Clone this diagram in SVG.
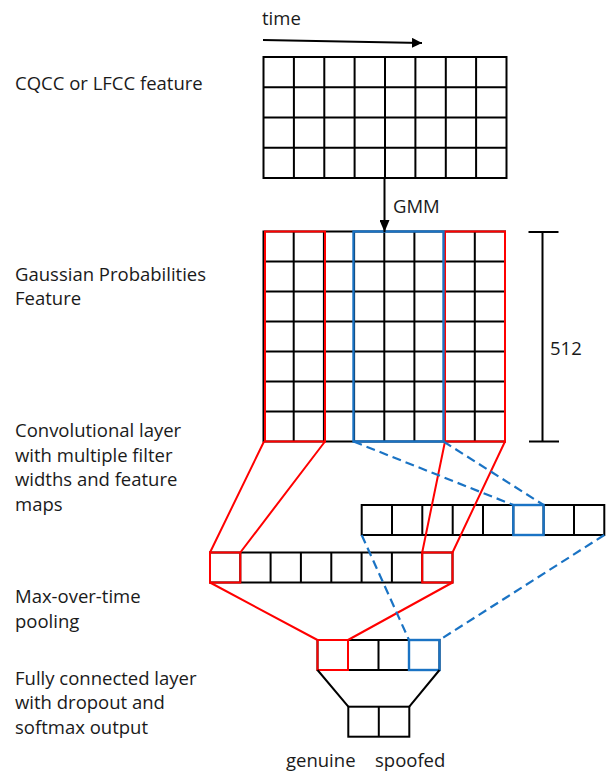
<svg xmlns="http://www.w3.org/2000/svg" width="608" height="771" viewBox="0 0 608 771">
  <defs>
    <style>
      .lbl { font-family: "Open Sans", "Liberation Sans", sans-serif; font-size: 18.5px; fill: #1a1a1a; }
      .grid { fill: none; stroke: #000; stroke-width: 2; }
      .red { fill: none; stroke: #ff0000; stroke-width: 2; }
      .blue { fill: none; stroke: #1a73c4; stroke-width: 2.4; }
      .dash { fill: none; stroke: #1a73c4; stroke-width: 2.2; stroke-dasharray: 9 5; }
      .ln { fill: none; stroke: #000; stroke-width: 2; }
    </style>
    <marker id="arrow" viewBox="0 0 10 10" refX="10" refY="5" markerWidth="10" markerHeight="10" markerUnits="userSpaceOnUse" orient="auto">
      <path d="M0,0 L10,5 L0,10 Z" fill="#000"/>
    </marker>
    <marker id="arrowBig" viewBox="0 0 12 10" refX="12" refY="5" markerWidth="12" markerHeight="10" markerUnits="userSpaceOnUse" orient="auto">
      <path d="M0,0 L12,5 L0,10 Z" fill="#000"/>
    </marker>
  </defs>
  <rect width="608" height="771" fill="#fff"/>

  <!-- side labels -->
  <g id="labels">
    <text class="lbl" x="15" y="90">CQCC or LFCC feature</text>
    <text class="lbl" x="15" y="280.5">Gaussian Probabilities</text>
    <text class="lbl" x="15" y="305">Feature</text>
    <text class="lbl" x="15" y="436.5">Convolutional layer</text>
    <text class="lbl" x="15" y="461.5">with multiple filter</text>
    <text class="lbl" x="15" y="486">widths and feature</text>
    <text class="lbl" x="15" y="510.5">maps</text>
    <text class="lbl" x="15" y="603">Max-over-time</text>
    <text class="lbl" x="15" y="627.5">pooling</text>
    <text class="lbl" x="15" y="684.5">Fully connected layer</text>
    <text class="lbl" x="15" y="709">with dropout and</text>
    <text class="lbl" x="15" y="733.5">softmax output</text>
  </g>

  <!-- input feature grid: 8 x 4 -->
  <g id="input-grid">
    <rect class="grid" x="263.5" y="57" width="243" height="121"/>
    <path class="grid" d="M293.9,57V178 M324.3,57V178 M354.6,57V178 M385,57V178 M415.4,57V178 M445.8,57V178 M476.1,57V178
                          M263.5,87.3H506.5 M263.5,117.5H506.5 M263.5,147.8H506.5"/>
  </g>

  <!-- gaussian probability grid: 8 x 7 -->
  <g id="gmm-grid">
    <rect class="grid" x="263.5" y="231.5" width="241.5" height="210"/>
    <path class="grid" d="M293.7,231.5V441.5 M323.9,231.5V441.5 M354.1,231.5V441.5 M384.3,231.5V441.5 M414.4,231.5V441.5 M444.6,231.5V441.5 M474.8,231.5V441.5
                          M263.5,261.5H505 M263.5,291.5H505 M263.5,321.5H505 M263.5,351.5H505 M263.5,381.5H505 M263.5,411.5H505"/>
    <rect class="red" x="265" y="231.5" width="60" height="210"/>
    <rect class="red" x="445" y="231.5" width="60" height="210"/>
    <rect class="blue" x="353.5" y="231.5" width="90" height="210"/>
  </g>

  <!-- scale bar for 512 components -->
  <g id="scale-bar">
    <path class="ln" d="M542.5,232V441.5 M528.5,232H558.5 M529,441.5H559"/>
    <text class="lbl" x="550" y="355">512</text>
  </g>

  <!-- feature map A (red filter) -->
  <g id="feature-map-a">
    <rect class="grid" x="210" y="552.5" width="242.5" height="30"/>
    <path class="grid" d="M240.3,552.5V582.5 M270.6,552.5V582.5 M300.9,552.5V582.5 M331.3,552.5V582.5 M361.6,552.5V582.5 M391.9,552.5V582.5 M422.2,552.5V582.5"/>
    <rect class="red" x="210" y="552.5" width="30.3" height="30"/>
    <rect class="red" x="422.2" y="552.5" width="30.3" height="30"/>
  </g>

  <!-- feature map B (blue filter) -->
  <g id="feature-map-b">
    <rect class="grid" x="361.7" y="505" width="242.6" height="30"/>
    <path class="grid" d="M392,505V535 M422.3,505V535 M452.7,505V535 M483,505V535 M513.3,505V535 M543.6,505V535 M574,505V535"/>
    <rect class="blue" x="513.3" y="505" width="30.3" height="30"/>
  </g>

  <!-- pooled vector -->
  <g id="pooled">
    <rect class="grid" x="317.5" y="640" width="122" height="30"/>
    <path class="grid" d="M348,640V670 M378.5,640V670 M409,640V670"/>
    <rect class="red" x="317.5" y="640" width="30.5" height="30"/>
    <rect class="blue" x="409" y="640" width="30.5" height="30"/>
  </g>

  <!-- softmax output -->
  <g id="output">
    <rect class="grid" x="348.3" y="706.7" width="61" height="30"/>
    <path class="grid" d="M378.8,706.7V736.7"/>
    <text class="lbl" x="286" y="766.5">genuine</text>
    <text class="lbl" x="375" y="766.5">spoofed</text>
  </g>

  <!-- connectors -->
  <g id="connectors">
    <line class="ln" x1="263" y1="40" x2="422" y2="43" marker-end="url(#arrow)"/>
    <text class="lbl" x="262" y="25">time</text>
    <line class="ln" x1="384.5" y1="178" x2="384.5" y2="232" marker-end="url(#arrowBig)"/>
    <text class="lbl" x="393" y="213">GMM</text>

    <path class="red" d="M264,441.5L210,552.5 M325,441.5L240.3,552.5 M445,441.5L422.2,552.5 M505,441.5L452.5,552.5"/>
    <path class="dash" d="M353.5,441.5L513.3,505 M443.5,441.5L543.6,505"/>

    <path class="red" d="M210,582.5L317.5,640 M452.5,582.5L348,640"/>
    <path class="dash" d="M361.7,535L409,640 M604.3,535L439.5,640"/>

    <path class="ln" d="M317.5,670L348.3,706.7 M439.5,670L409.3,706.7"/>
  </g>
</svg>
